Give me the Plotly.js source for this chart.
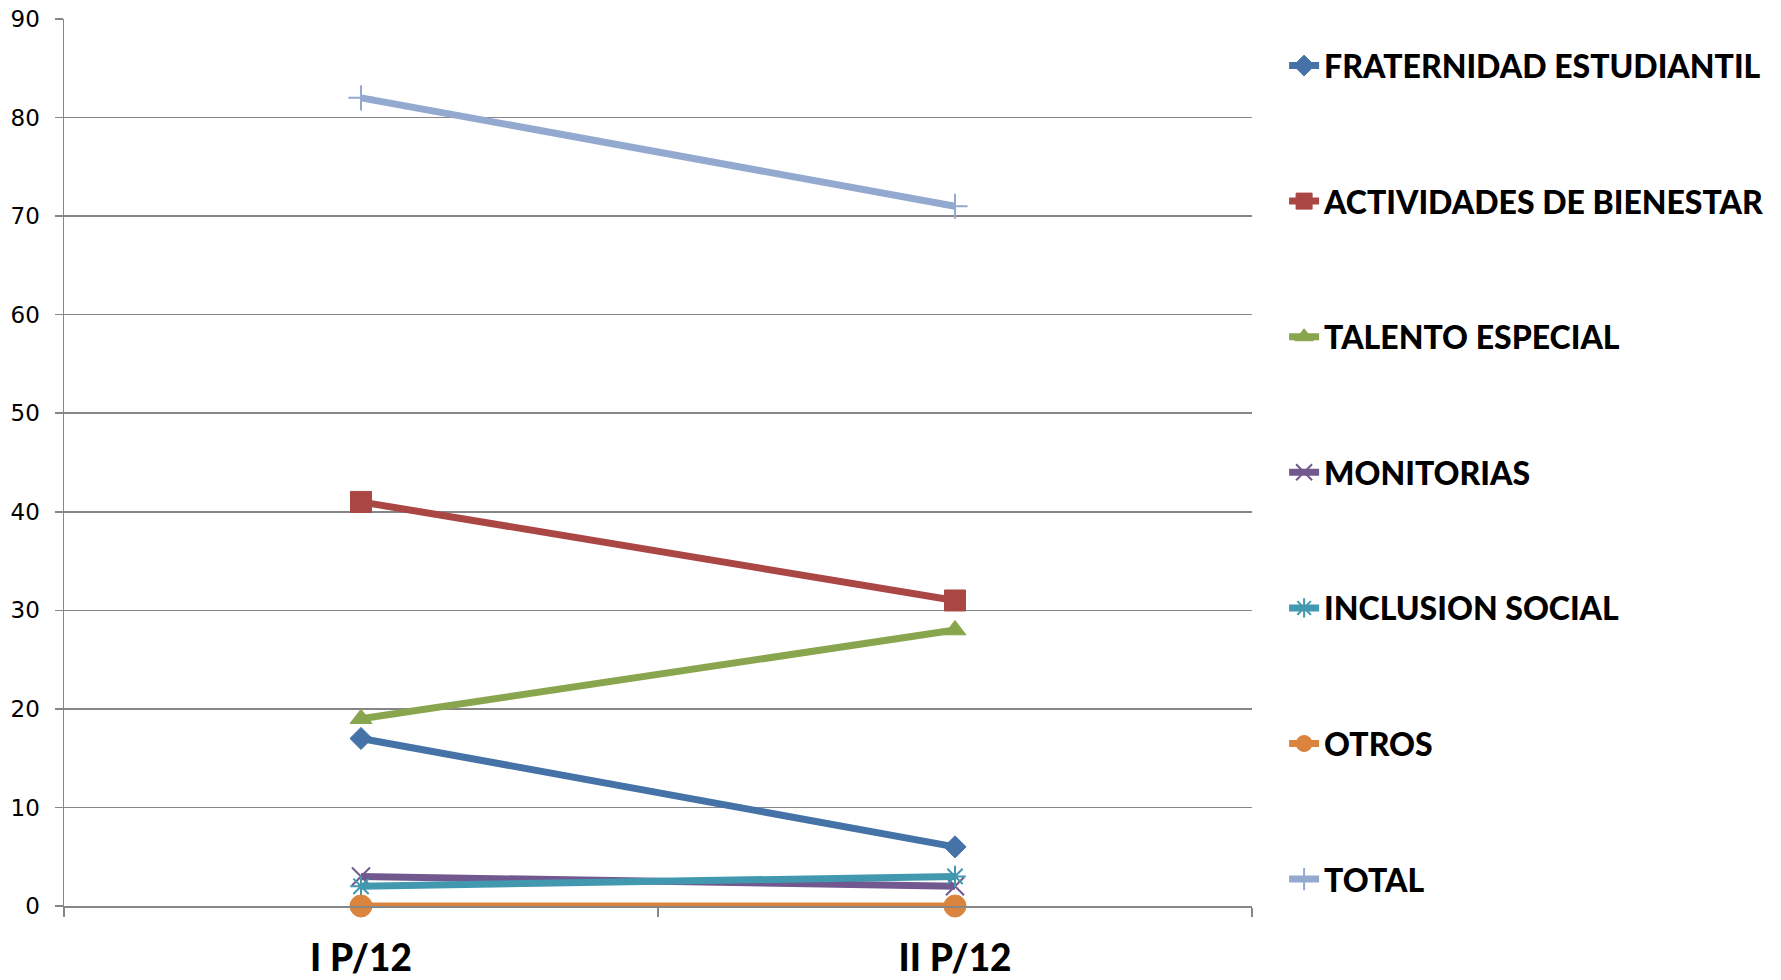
<!DOCTYPE html>
<html>
<head>
<meta charset="utf-8">
<script src="https://cdn.plot.ly/plotly-3.0.1.min.js"></script>
<style>html,body{margin:0;padding:0;background:#fff;}#chart{width:1781px;height:980px;}</style>
</head>
<body>
<div id="chart"></div>
<script>
const categories = ["I P/12", "II P/12"];
const fraternidad = [17, 6];
const actividades = [41, 31];
const talento = [19, 28];
const monitorias = [3, 2];
const inclusion = [2, 3];
const otros = [0, 0];
const total = [82, 71];
const seriesNames = ["FRATERNIDAD ESTUDIANTIL", "ACTIVIDADES DE BIENESTAR", "TALENTO ESPECIAL", "MONITORIAS", "INCLUSION SOCIAL", "OTROS", "TOTAL"];
const yTicks = [0, 10, 20, 30, 40, 50, 60, 70, 80, 90];

const seriesValues = [fraternidad, actividades, talento, monitorias, inclusion, otros, total];
const colors = ["#4572A7", "#AA4643", "#89A54E", "#71588F", "#4198AF", "#DB843D", "#93A9CF"];
const symbols = ["diamond", "square", "triangle-up", "x-thin-open", "asterisk-open", "circle", "cross-thin-open"];
const sizes = [17, 21, 19, 18, 18, 22, 18];

const traces = seriesValues.map((vals, i) => ({
  type: "scatter",
  mode: "lines+markers",
  x: categories,
  y: vals,
  name: seriesNames[i],
  legendgroup: "g" + i,
  line: {color: colors[i], width: 7},
  marker: {symbol: symbols[i], size: sizes[i], color: colors[i], line: {color: colors[i], width: (i === 3 || i === 4 || i === 6) ? 2 : 1}},
  cliponaxis: false
}));

const layout = {
  width: 1781, height: 980,
  margin: {l: 64, r: 529, t: 19, b: 74},
  paper_bgcolor: "#ffffff",
  plot_bgcolor: "#ffffff",
  showlegend: true,
  xaxis: {
    type: "category",
    range: [-0.5, 1.5],
    showgrid: false,
    showline: true, linecolor: "#868686", linewidth: 1.5,
    ticks: "outside", tickson: "boundaries", ticklen: 9, tickcolor: "#868686", tickwidth: 1.5,
    tickfont: {family: "Lato", size: 37, color: "#000", weight: 900},
    ticklabelstandoff: 19,
    zeroline: false,
    fixedrange: true
  },
  yaxis: {
    range: [0, 90],
    tickvals: yTicks,
    ticktext: yTicks.map(String),
    showgrid: true, gridcolor: "#868686", gridwidth: 1.5,
    showline: true, linecolor: "#868686", linewidth: 1.5,
    ticks: "outside", ticklen: 8, tickcolor: "#868686", tickwidth: 1.5,
    tickfont: {family: "DejaVu Sans", size: 23, color: "#000"},
    ticklabelstandoff: 10,
    zeroline: false,
    fixedrange: true
  },
  legend: {
    xref: "container", yref: "container",
    x: 0.721, y: 0.961, xanchor: "left", yanchor: "top",
    font: {family: "Lato", size: 32, color: "#000", weight: 900},
    traceorder: "grouped",
    tracegroupgap: 91,
    bgcolor: "rgba(0,0,0,0)",
    maxheight: 1000,
    itemwidth: 30
  }
};

Plotly.newPlot("chart", traces, layout, {displayModeBar: false, staticPlot: true});
</script>
</body>
</html>
